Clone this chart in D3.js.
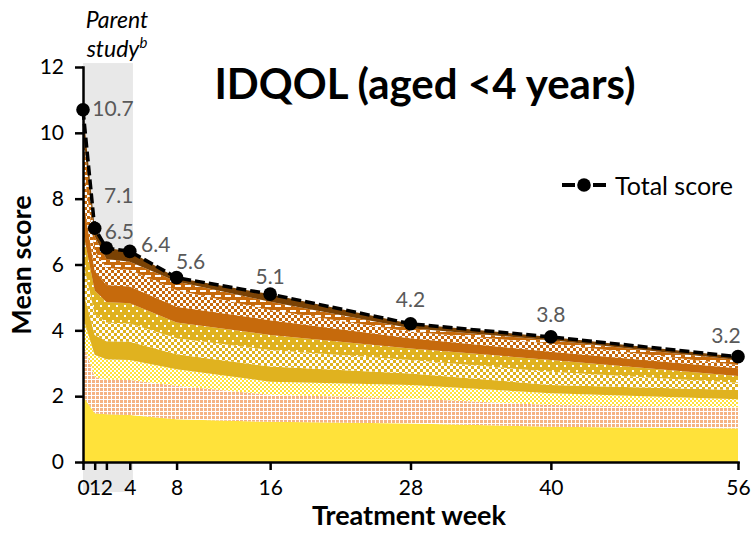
<html>
<head>
<meta charset="utf-8">
<title>IDQOL (aged &lt;4 years)</title>
<script src="https://cdn.jsdelivr.net/npm/d3@7"></script>
<style>
body{ margin:0; background:#fff; }
text{ font-family: Lato, "Open Sans", sans-serif; }
.axis path, .axis line{ stroke:#000; stroke-width:2.5px; }
.axis text{ font-size:21px; fill:#000; }
.total{ fill:none; stroke:#000; stroke-width:3.5px; stroke-dasharray:10 4; }
.dot{ fill:#000; }
.val{ font-size:21px; fill:#595959; }
.lab{ font-size:27px; font-weight:bold; fill:#000; }
</style>
</head>
<body>
<script>

// treatment weeks and total score
var weeks = [0, 1, 2, 4, 8, 16, 28, 40, 56];
var totalScore = [10.7, 7.1, 6.5, 6.4, 5.6, 5.1, 4.2, 3.8, 3.2];

// item scores (bottom to top of the stack)
var itching    = [2.0, 1.48, 1.45, 1.43, 1.30, 1.22, 1.17, 1.07, 1.02];
var mood       = [1.6, 1.10, 1.05, 1.06, 1.02, 0.82, 0.76, 0.66, 0.64];
var sleepTime  = [0.8, 0.68, 0.62, 0.61, 0.50, 0.40, 0.41, 0.36, 0.25];
var sleepDist  = [0.8, 0.60, 0.55, 0.55, 0.45, 0.46, 0.35, 0.25, 0.28];
var playing    = [0.9, 0.65, 0.57, 0.56, 0.49, 0.50, 0.41, 0.40, 0.22];
var family     = [0.9, 0.70, 0.62, 0.61, 0.48, 0.46, 0.35, 0.36, 0.20];
var mealtimes  = [1.0, 0.60, 0.52, 0.51, 0.48, 0.45, 0.31, 0.25, 0.24];
var treatment  = [1.1, 0.60, 0.52, 0.50, 0.50, 0.31, 0.20, 0.25, 0.10];
var dressing   = [0.9, 0.45, 0.27, 0.25, 0.26, 0.25, 0.10, 0.10, 0.15];
var bathing    = [0.7, 0.24, 0.33, 0.32, 0.12, 0.23, 0.14, 0.10, 0.10];

var itemKeys = ["itching","mood","sleepTime","sleepDist","playing","family","mealtimes","treatment","dressing","bathing"];
var itemValues = [itching, mood, sleepTime, sleepDist, playing, family, mealtimes, treatment, dressing, bathing];

var yTicks = [0, 2, 4, 6, 8, 10, 12];
var parentStudyEnd = 4.27;   // end of grey band, in weeks

var width = 753;
var height = 540;

var svg = d3.select("body").append("svg")
			.attr("width", width)
			.attr("height", height);

var x = d3.scaleLinear().domain([0, 56]).range([83, 738]);
var y = d3.scaleLinear().domain([0, 12]).range([462, 67]);

// patterns
var defs = svg.append("defs");
function addPattern(id, w, h, bg, rects){
	var p = defs.append("pattern")
		.attr("id", id)
		.attr("patternUnits", "userSpaceOnUse")
		.attr("width", w)
		.attr("height", h);
	p.append("rect").attr("width", w).attr("height", h).attr("fill", bg);
	rects.forEach(function(r){
		p.append("rect").attr("x", r[0]).attr("y", r[1])
			.attr("width", r[2]).attr("height", r[3]).attr("fill", r[4]);
	});
}

var yellow = "#FFE23A", peach = "#F5B383", gold = "#E0B21F", orange = "#C66A0C", brown = "#7A4204";

addPattern("pPeach", 4, 4, "#fff", [[0,0,3,3,peach]]);
addPattern("pYellowChk", 4, 4, yellow, [[0,0,2,2,"#fff"],[2,2,2,2,"#fff"]]);
addPattern("pGoldChk", 6, 6, gold, [[0,0,3,3,"#fff"],[3,3,3,3,"#fff"]]);
addPattern("pGoldDots", 8, 10, gold, [[0,0,2,2,"#fff"],[4,5,2,2,"#fff"]]);
addPattern("pOrangeChk", 6, 6, orange, [[0,0,3,3,"#fff"],[3,3,3,3,"#fff"]]);
addPattern("pOrangeDash", 10, 10, orange, [[0,0,6,2,"#fff"],[5,5,6,2,"#fff"],[-5,5,6,2,"#fff"]]);

var fills = [yellow, "url(#pPeach)", "url(#pYellowChk)", gold, "url(#pGoldChk)",
			"url(#pGoldDots)", orange, "url(#pOrangeChk)", "url(#pOrangeDash)", brown];

// grey band for the parent study
svg.append("rect")
	.attr("x", x(0))
	.attr("y", y(12.12))
	.attr("width", x(parentStudyEnd) - x(0))
	.attr("height", 492 - y(12.12))
	.attr("fill", "#E8E8E8");

// table for the stack
var rows = weeks.map(function(w, i){
	var r = { week: w };
	itemKeys.forEach(function(k, j){ r[k] = itemValues[j][i]; });
	return r;
});

var series = d3.stack().keys(itemKeys)(rows);

var area = d3.area()
	.x(function(d){ return x(d.data.week); })
	.y0(function(d){ return y(d[0]); })
	.y1(function(d){ return y(d[1]); });

svg.selectAll(".band")
	.data(series)
	.enter().append("path")
	.attr("class", "band")
	.attr("d", area)
	.attr("fill", function(d, i){ return fills[i]; });

// axes
svg.append("g")
	.attr("class", "axis")
	.attr("transform", "translate(" + x(0) + ",0)")
	.call(d3.axisLeft(y).tickValues(yTicks).tickSize(8).tickSizeOuter(0).tickPadding(11));

svg.append("g")
	.attr("class", "axis")
	.attr("transform", "translate(0," + y(0) + ")")
	.call(d3.axisBottom(x).tickValues(weeks).tickSize(8).tickSizeOuter(0).tickPadding(10));

svg.selectAll(".axis .domain").attr("stroke-linecap", "square");

// total score
var pts = weeks.map(function(w, i){ return { week: w, v: totalScore[i] }; });

svg.append("path")
	.datum(pts)
	.attr("class", "total")
	.attr("d", d3.line()
		.x(function(d){ return x(d.week); })
		.y(function(d){ return y(d.v); }));

svg.selectAll(".dot")
	.data(pts)
	.enter().append("circle")
	.attr("class", "dot")
	.attr("cx", function(d){ return x(d.week); })
	.attr("cy", function(d){ return y(d.v); })
	.attr("r", 6.8);

// label offsets from each point (dx, dy)
var labelOffsets = [[30,-2],[24,-34],[13,-18],[26,-8],[14,-17],[0,-19],[0,-25],[0,-23],[-12,-22]];

svg.selectAll(".val")
	.data(pts)
	.enter().append("text")
	.attr("class", "val")
	.attr("x", function(d, i){ return x(d.week) + labelOffsets[i][0]; })
	.attr("y", function(d, i){ return y(d.v) + labelOffsets[i][1]; })
	.attr("text-anchor", "middle")
	.attr("dominant-baseline", "central")
	.text(function(d){ return d.v.toFixed(1); });

// titles
svg.append("text")
	.attr("x", 425)
	.attr("y", 99)
	.attr("text-anchor", "middle")
	.style("font-size", "42px")
	.style("font-weight", "bold")
	.text("IDQOL (aged <4 years)");

svg.append("text")
	.attr("class", "lab")
	.attr("transform", "translate(31,265) rotate(-90)")
	.attr("text-anchor", "middle")
	.text("Mean score");

svg.append("text")
	.attr("class", "lab")
	.attr("x", 409)
	.attr("y", 525)
	.attr("text-anchor", "middle")
	.text("Treatment week");

var ps = svg.append("text")
	.attr("text-anchor", "middle")
	.style("font-size", "23px")
	.style("font-style", "italic");
ps.append("tspan").attr("x", 117).attr("y", 28).text("Parent");
ps.append("tspan").attr("x", 117).attr("y", 57).text("study");
ps.append("tspan").attr("dy", -9).style("font-size", "15px").text("b");

// legend
var lg = svg.append("g").attr("transform", "translate(562,185)");
lg.append("line")
	.attr("x1", 0).attr("x2", 44)
	.attr("stroke", "#000").attr("stroke-width", 4)
	.attr("stroke-dasharray", "13 18");
lg.append("circle").attr("cx", 22).attr("r", 6.8).attr("fill", "#000");
lg.append("text")
	.attr("x", 53)
	.attr("dominant-baseline", "central")
	.style("font-size", "25px")
	.text("Total score");

</script>
</body>
</html>
